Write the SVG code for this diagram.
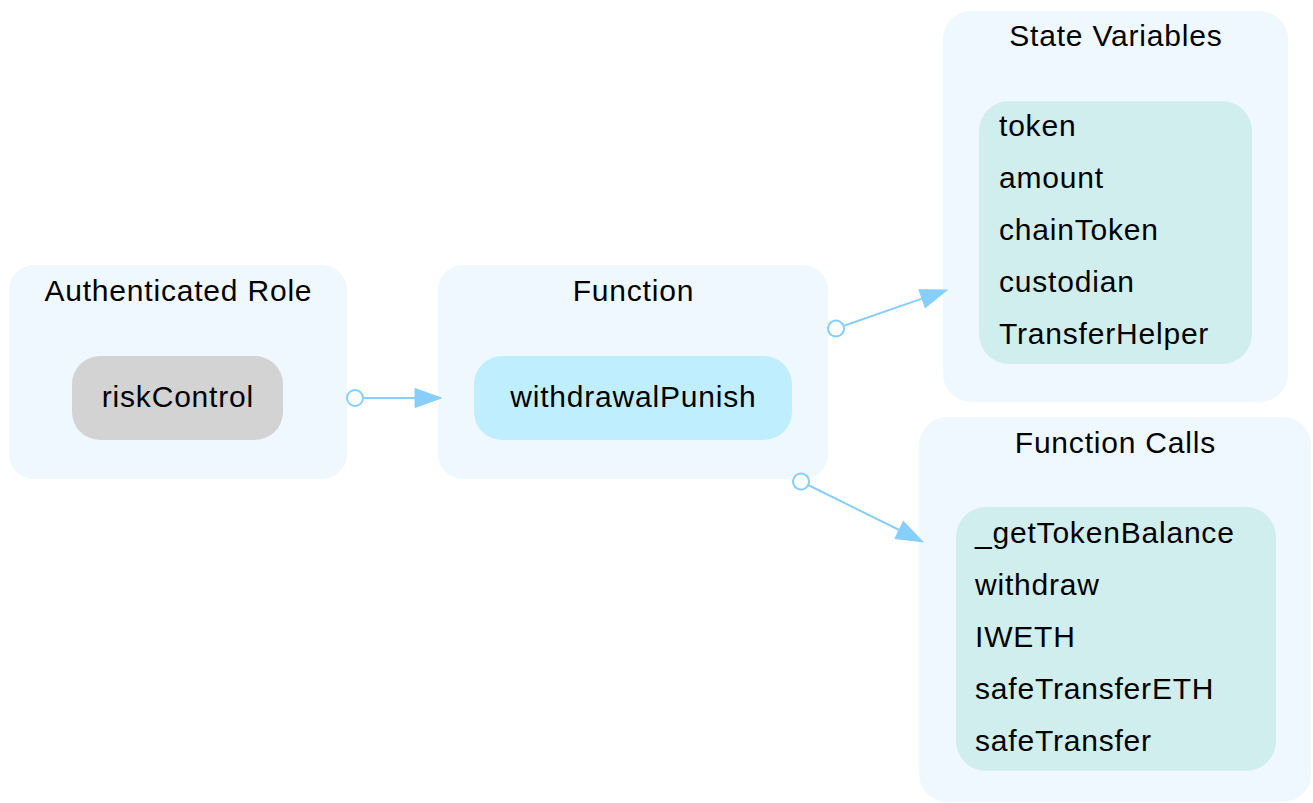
<svg xmlns="http://www.w3.org/2000/svg" width="1313" height="803" viewBox="0 0 1313 803">
  <style>
    text { font-family: "Liberation Sans", Arial, Helvetica, sans-serif; font-size: 30px; letter-spacing: 0.8px; fill: #000; }
    .title { text-anchor: middle; }
    .center { text-anchor: middle; }
    .cluster { fill: #F0F8FF; }
    .role { fill: #D3D3D3; }
    .func { fill: #BFEFFF; }
    .list { fill: #D1EEEE; }
    .edge { fill: none; stroke: #87CEFA; stroke-width: 2; marker-start: url(#dot); marker-end: url(#arrow); }
  </style>
  <defs>
    <marker id="arrow" markerUnits="userSpaceOnUse" viewBox="0 -10 27 20" markerWidth="27" markerHeight="20" refX="0" refY="0" orient="auto" overflow="visible">
      <path d="M0,-9.5 L26.5,0 L0,9.5 Z" fill="#87CEFA" stroke="#87CEFA" stroke-width="1"/>
    </marker>
    <marker id="dot" markerUnits="userSpaceOnUse" viewBox="-10 -10 20 20" markerWidth="20" markerHeight="20" refX="0" refY="0" orient="auto" overflow="visible">
      <circle cx="0" cy="0" r="8" fill="#FFFFFF" stroke="#87CEFA" stroke-width="2"/>
    </marker>
  </defs>

  <rect width="1313" height="803" fill="#FFFFFF"/>

  <!-- Authenticated Role -->
  <g id="cluster-role">
    <rect class="cluster" x="9" y="265" width="338" height="214" rx="25"/>
    <text class="title" x="178.4" y="301">Authenticated Role</text>
    <g id="node-riskControl">
      <rect class="role" x="72" y="356" width="211" height="84" rx="28"/>
      <text class="center" x="177.9" y="407">riskControl</text>
    </g>
  </g>

  <!-- Function -->
  <g id="cluster-function">
    <rect class="cluster" x="438" y="265" width="390" height="214" rx="25"/>
    <text class="title" x="633.4" y="301">Function</text>
    <g id="node-withdrawalPunish">
      <rect class="func" x="474" y="356" width="318" height="84" rx="28"/>
      <text class="center" x="633.4" y="407">withdrawalPunish</text>
    </g>
  </g>

  <!-- State Variables -->
  <g id="cluster-state">
    <rect class="cluster" x="943" y="11" width="345" height="391" rx="28"/>
    <text class="title" x="1115.9" y="46">State Variables</text>
    <g id="node-state-vars">
      <rect class="list" x="979" y="101" width="273" height="263" rx="30"/>
      <text x="999" y="136">token</text>
      <text x="999" y="188">amount</text>
      <text x="999" y="240">chainToken</text>
      <text x="999" y="292">custodian</text>
      <text x="999" y="344">TransferHelper</text>
    </g>
  </g>

  <!-- Function Calls -->
  <g id="cluster-calls">
    <rect class="cluster" x="919" y="417" width="392" height="385" rx="28"/>
    <text class="title" x="1115.4" y="453">Function Calls</text>
    <g id="node-calls">
      <rect class="list" x="956" y="507" width="320" height="264" rx="30"/>
      <text x="975" y="543">_getTokenBalance</text>
      <text x="975" y="595">withdraw</text>
      <text x="975" y="647">IWETH</text>
      <text x="975" y="699">safeTransferETH</text>
      <text x="975" y="751">safeTransfer</text>
    </g>
  </g>

  <!-- Connectors -->
  <g id="connectors">
    <path class="edge" d="M355,398 L415,398"/>
    <path class="edge" d="M836,328.5 L922,298.6"/>
    <path class="edge" d="M801,481.5 L899.2,530"/>
  </g>
</svg>
